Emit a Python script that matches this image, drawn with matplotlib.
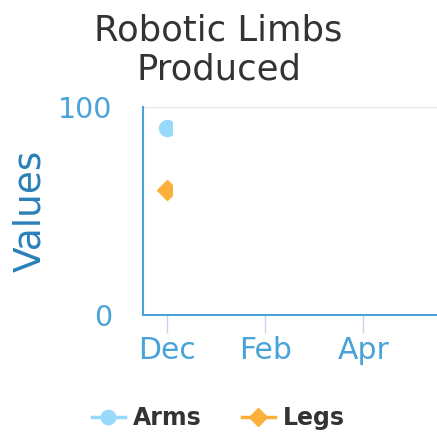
import numpy as np
from matplotlib import pyplot as plt
from matplotlib.patches import Rectangle

months = ["Dec", "Jan", "Feb", "Mar", "Apr", "May"]
tick_labels = ["Dec", "Feb", "Apr"]
arms = [90]
legs = [60]

BLUE = "#4aa3d8"
DARK = "#333333"

fig = plt.figure(figsize=(4.37, 4.32), dpi=100)
ax = fig.add_axes([0.327, 0.271, 0.673, 0.481])

x = np.arange(len(arms))
l1, = ax.plot(x, arms, color="#99d9fb", marker="o", markersize=11.5, lw=2.5, label="Arms")
l2, = ax.plot(x, legs, color="#fbb03b", marker="D", markersize=10, lw=2.5, label="Legs")

# the points are cut off just right of the first category
clip = Rectangle((-0.5, -20), 0.6, 140, transform=ax.transData)
for ln in (l1, l2):
    ln.set_clip_path(clip)

ax.set_xlim(-0.5, len(months) - 0.5)
ax.set_ylim(0, 100)
ax.set_xticks([months.index(m) for m in tick_labels])
ax.set_xticklabels(tick_labels)
ax.set_yticks([0, 100])
ax.axhline(100, color="#e6e6e6", lw=1.5, zorder=0)

for s in ["top", "right"]:
    ax.spines[s].set_visible(False)
for s in ["left", "bottom"]:
    ax.spines[s].set_color(BLUE)
    ax.spines[s].set_linewidth(1.5)

ax.tick_params(axis="x", colors="#c5d5ea", labelcolor=BLUE, labelsize=21.5,
               length=13, width=1, pad=2)
ax.tick_params(axis="y", colors=BLUE, labelsize=20.5, length=0, pad=22)

ax.set_ylabel("Values", color="#2a80b9", fontsize=27, labelpad=7)
fig.text(0.5, 0.968, "Robotic Limbs\nProduced", color=DARK, fontsize=25.5,
         ha="center", va="top", linespacing=1.18)

leg = fig.legend(handles=[l1, l2], loc="lower center", bbox_to_anchor=(0.5, -0.045),
                 ncol=2, frameon=False, handlelength=1.4, handletextpad=0.35,
                 columnspacing=1.7, markerscale=0.9,
                 prop={"weight": "bold", "size": 17})
for t in leg.get_texts():
    t.set_color(DARK)

fig.savefig("out.png", dpi=100)
